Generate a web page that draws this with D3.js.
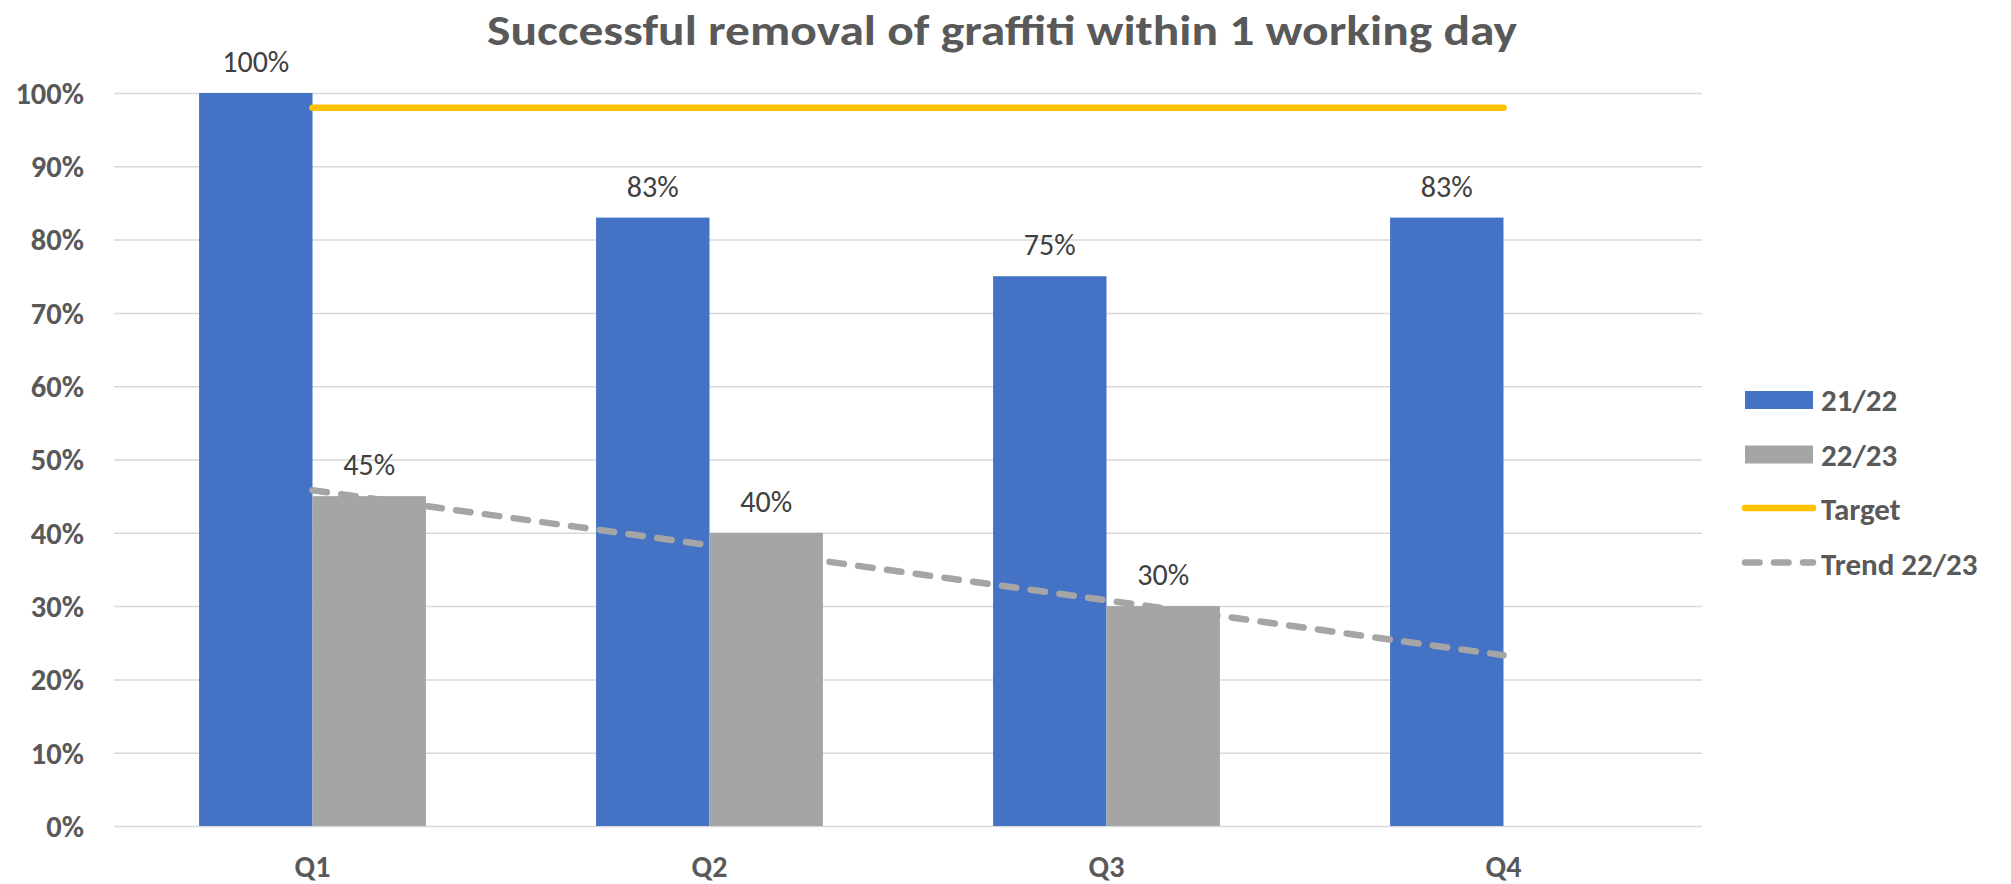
<!DOCTYPE html>
<html>
  <head>
    <meta charset="UTF-8">
    <title>Graffiti removal</title>
    <style>
    html, body {
      margin: 0;
      background-color: white;
    }
    svg text {
      font-family: Carlito, Calibri, Lato, sans-serif;
    }
    </style>
  </head>
  <body>
  <script src="https://cdnjs.cloudflare.com/ajax/libs/d3/7.8.5/d3.min.js"></script>
  <script>
  // Chart data
  var quarters = ['Q1', 'Q2', 'Q3', 'Q4'];
  var seriesNames = ['21/22', '22/23'];
  var values2122 = [1.00, 0.83, 0.75, 0.83];
  var values2223 = [0.45, 0.40, 0.30, null];
  var targetValues = [0.98, 0.98, 0.98, 0.98];
  // Trend 22/23 as drawn, from Q1 to Q4
  var trendQuarters = ['Q1', 'Q4'];
  var trendValues = [0.458, 0.233];
  var yTicks = [0, 0.1, 0.2, 0.3, 0.4, 0.5, 0.6, 0.7, 0.8, 0.9, 1.0];

  var width = 2011, height = 884;
  var plot = {left: 114, right: 1702, top: 93, bottom: 826};
  var blue = '#4472C4', grey = '#A5A5A5', gold = '#FFC000', textGrey = '#595959';

  var svg = d3.select('body').append('svg')
    .attr('width', width)
    .attr('height', height);

  // Scales
  var x = d3.scaleBand().domain(quarters).range([plot.left, plot.right]).paddingInner(0).paddingOuter(0);
  var xInner = d3.scaleBand().domain(seriesNames).range([0, x.bandwidth()]).paddingInner(0).paddingOuter(0.75);
  var y = d3.scaleLinear().domain([0, 1]).range([plot.bottom, plot.top]);

  // Title
  svg.append('text')
    .attr('x', 1002)
    .attr('y', 45)
    .attr('text-anchor', 'middle')
    .attr('font-size', 43)
    .attr('font-weight', 'bold')
    .attr('fill', textGrey)
    .attr('textLength', 1030)
    .attr('lengthAdjust', 'spacingAndGlyphs')
    .text('Successful removal of graffiti within 1 working day');

  // Gridlines
  var grid = svg.append('g')
    .attr('transform', 'translate(' + plot.left + ',0)')
    .call(d3.axisLeft(y).tickValues(yTicks).tickSize(-(plot.right - plot.left)).tickFormat(''));
  grid.select('.domain').remove();
  grid.selectAll('line').attr('stroke', '#D9D9D9').attr('stroke-width', 1.5);

  // Y axis labels
  var yAxis = svg.append('g')
    .attr('transform', 'translate(' + 84 + ',0)')
    .call(d3.axisLeft(y).tickValues(yTicks).tickSize(0).tickPadding(0).tickFormat(d3.format('.0%')));
  yAxis.select('.domain').remove();
  yAxis.selectAll('text')
    .attr('font-size', 30.5)
    .attr('font-weight', 'bold')
    .attr('fill', textGrey)
    .attr('dy', '0.34em');

  // X axis labels
  var xAxis = svg.append('g')
    .attr('transform', 'translate(0,' + plot.bottom + ')')
    .call(d3.axisBottom(x).tickSize(0).tickPadding(0));
  xAxis.select('.domain').remove();
  xAxis.selectAll('text')
    .attr('font-size', 30)
    .attr('font-weight', 'bold')
    .attr('fill', textGrey)
    .attr('y', 51)
    .attr('dy', 0);

  // Bars
  var barData = [];
  quarters.forEach(function(q, i) {
    barData.push({q: q, s: '21/22', v: values2122[i], color: blue});
    if (values2223[i] != null) barData.push({q: q, s: '22/23', v: values2223[i], color: grey});
  });

  svg.append('g').selectAll('rect')
    .data(barData)
    .enter()
    .append('rect')
    .attr('x', function(d) { return x(d.q) + xInner(d.s); })
    .attr('y', function(d) { return y(d.v); })
    .attr('width', xInner.bandwidth())
    .attr('height', function(d) { return y(0) - y(d.v); })
    .attr('fill', function(d) { return d.color; });

  // Data labels
  svg.append('g').selectAll('text')
    .data(barData)
    .enter()
    .append('text')
    .attr('x', function(d) { return x(d.q) + xInner(d.s) + xInner.bandwidth() / 2; })
    .attr('y', function(d) { return y(d.v) - 21; })
    .attr('text-anchor', 'middle')
    .attr('font-size', 30)
    .attr('fill', '#404040')
    .text(function(d) { return d3.format('.0%')(d.v); });

  var center = function(q) { return x(q) + x.bandwidth() / 2; };

  // Target line
  var line = d3.line()
    .x(function(d) { return center(d.q); })
    .y(function(d) { return y(d.v); });

  svg.append('path')
    .datum(quarters.map(function(q, i) { return {q: q, v: targetValues[i]}; }))
    .attr('d', line)
    .attr('fill', 'none')
    .attr('stroke', gold)
    .attr('stroke-width', 6.5)
    .attr('stroke-linecap', 'round');

  // Trend line
  svg.append('path')
    .datum(trendQuarters.map(function(q, i) { return {q: q, v: trendValues[i]}; }))
    .attr('d', line)
    .attr('fill', 'none')
    .attr('stroke', grey)
    .attr('stroke-width', 6.5)
    .attr('stroke-linecap', 'round')
    .attr('stroke-dasharray', '14.5 14.5');

  // Legend
  var legendItems = [
    {name: '21/22', type: 'rect', color: blue},
    {name: '22/23', type: 'rect', color: grey},
    {name: 'Target', type: 'line', color: gold},
    {name: 'Trend 22/23', type: 'dash', color: grey}
  ];
  var legend = svg.append('g').attr('transform', 'translate(1745,400)');
  var item = legend.selectAll('g')
    .data(legendItems)
    .enter()
    .append('g')
    .attr('transform', function(d, i) { return 'translate(0,' + (i * 54.5) + ')'; });

  item.filter(function(d) { return d.type === 'rect'; })
    .append('rect')
    .attr('x', 0).attr('y', -9)
    .attr('width', 68).attr('height', 18)
    .attr('fill', function(d) { return d.color; });

  item.filter(function(d) { return d.type !== 'rect'; })
    .append('line')
    .attr('x1', 0).attr('x2', 68)
    .attr('y1', -1).attr('y2', -1)
    .attr('stroke', function(d) { return d.color; })
    .attr('stroke-width', 6.5)
    .attr('stroke-linecap', 'round')
    .attr('stroke-dasharray', function(d) { return d.type === 'dash' ? '14.5 14.5' : null; });

  item.append('text')
    .attr('x', 76)
    .attr('y', 11)
    .attr('font-size', 31)
    .attr('font-weight', 'bold')
    .attr('fill', textGrey)
    .text(function(d) { return d.name; });
  </script>
  </body>
</html>
